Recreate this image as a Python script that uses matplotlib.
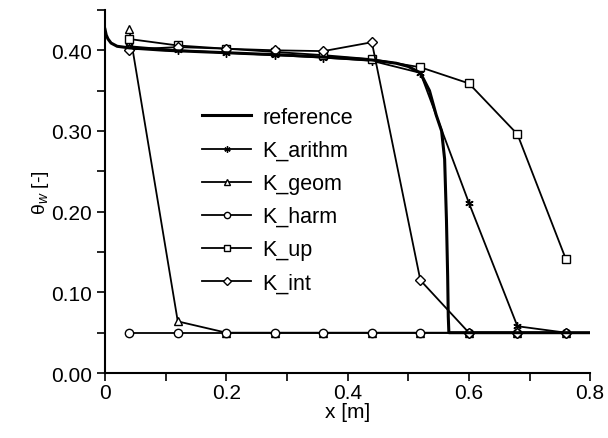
import numpy as np
import matplotlib.pyplot as plt

plt.rcParams['font.family'] = ['Liberation Sans', 'DejaVu Sans']
plt.rcParams['mathtext.fontset'] = 'custom'
plt.rcParams['mathtext.rm'] = 'Liberation Sans'
plt.rcParams['mathtext.it'] = 'Liberation Sans:italic'

# reference solution
ref_x = [0.0, 0.002, 0.005, 0.01, 0.02, 0.04, 0.1, 0.2, 0.3, 0.4, 0.44, 0.48, 0.5,
         0.52, 0.535, 0.546, 0.555, 0.56, 0.563, 0.565, 0.566, 0.567, 0.8]
ref_y = [0.426, 0.419, 0.414, 0.409, 0.405, 0.403, 0.400, 0.397, 0.394, 0.390, 0.388,
         0.384, 0.380, 0.372, 0.350, 0.320, 0.300, 0.265, 0.190, 0.120, 0.070, 0.050, 0.050]

# node values
x_nodes = [0.04, 0.12, 0.20, 0.28, 0.36, 0.44, 0.52, 0.60, 0.68, 0.76]
k_arithm = [0.405, 0.400, 0.397, 0.394, 0.391, 0.387, 0.372, 0.211, 0.058, 0.050]
k_geom = [0.426, 0.064, 0.050, 0.050, 0.050, 0.050, 0.050, 0.050, 0.050, 0.050]
k_harm = [0.050, 0.050, 0.050, 0.050, 0.050, 0.050, 0.050, 0.050, 0.050, 0.050]
k_up = [0.414, 0.406, 0.402, 0.398, 0.394, 0.389, 0.379, 0.359, 0.296, 0.141]
k_int = [0.401, 0.404, 0.402, 0.400, 0.399, 0.410, 0.115, 0.050, 0.050, 0.050]

fig = plt.figure(figsize=(6.08, 4.39), dpi=100)
ax = fig.add_axes([0.1727, 0.148, 0.798, 0.827])

ax.plot(ref_x, ref_y, color='black', lw=2.2, label='reference', zorder=5)
style = dict(color='black', lw=1.3, mfc='white', mec='black', mew=1.0, ms=6)
ax.plot(x_nodes, k_arithm, marker=(6, 2, 0), label='K_arithm', **style)
ax.plot(x_nodes, k_geom, marker='^', label='K_geom', **style)
ax.plot(x_nodes, k_harm, marker='o', label='K_harm', **style)
ax.plot(x_nodes, k_up, marker='s', label='K_up', **style)
ax.plot(x_nodes, k_int, marker='D', label='K_int', **{**style, 'ms': 5})

ax.set_xlim(0, 0.8)
ax.set_ylim(0, 0.45)
ax.set_xticks(np.arange(0, 0.81, 0.2))
ax.set_xticklabels(['0', '0.2', '0.4', '0.6', '0.8'])
ax.set_xticks(np.arange(0.1, 0.8, 0.2), minor=True)
ax.set_yticks(np.arange(0, 0.41, 0.1))
ax.set_yticklabels(['0.00', '0.10', '0.20', '0.30', '0.40'])
ax.set_yticks(np.arange(0.05, 0.46, 0.1), minor=True)
ax.tick_params(which='both', direction='out', length=6, width=1.2, labelsize=15)
ax.tick_params(axis='x', pad=1)
for s in ['top', 'right']:
    ax.spines[s].set_visible(False)
for s in ['left', 'bottom']:
    ax.spines[s].set_linewidth(1.5)

ax.set_xlabel('x [m]', fontsize=15, labelpad=0)
ax.set_ylabel('θ$_{w}$ [-]', fontsize=14, labelpad=0)

ax.legend(loc='upper left', bbox_to_anchor=(0.332, 0.754), bbox_transform=fig.transFigure,
          frameon=False, fontsize=15.5, handlelength=2.3, labelspacing=0.56,
          markerscale=0.75, handletextpad=0.5, borderpad=0, borderaxespad=0)

fig.savefig('out.png', dpi=100)
